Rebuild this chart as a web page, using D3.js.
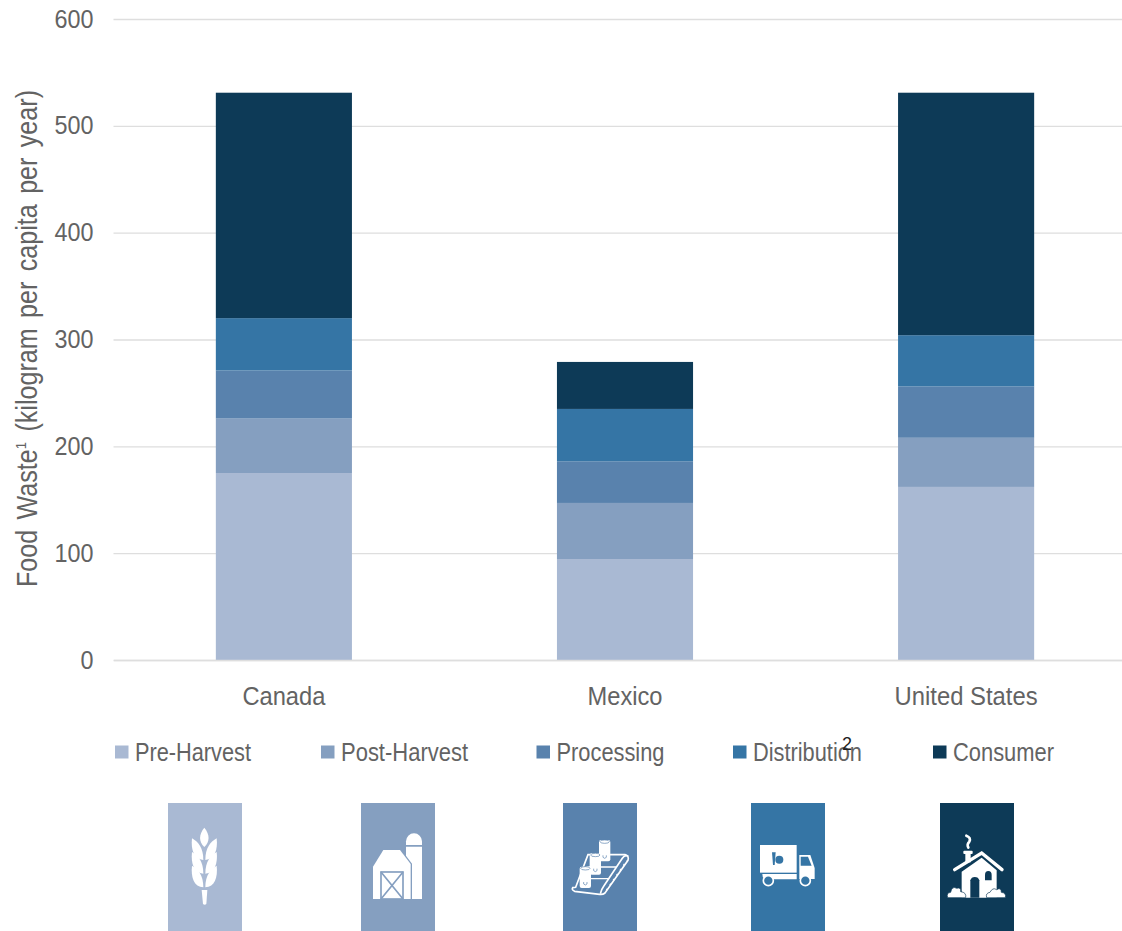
<!DOCTYPE html>
<html>
<head>
<meta charset="utf-8">
<script src="https://cdn.jsdelivr.net/npm/d3@7"></script>
<style>
html, body { margin: 0; padding: 0; background: #fff; overflow: hidden; }
svg { display: block; }
text { font-family: "Liberation Sans", Arial, sans-serif; fill: #636363; }
</style>
</head>
<body>
<svg></svg>
<script>
// values
var categories = ["Canada", "Mexico", "United States"];
var seriesNames = ["Pre-Harvest", "Post-Harvest", "Processing", "Distribution", "Consumer"];
var preHarvest = [175, 94.5, 162];
var postHarvest = [51, 52.5, 46];
var processing = [45, 39, 48];
var distribution = [49, 49, 48];
var consumer = [211, 44, 227];
var yTicks = [0, 100, 200, 300, 400, 500, 600];
var colors = ["#A9B9D3", "#859FC0", "#5982AD", "#3575A5", "#0D3A57"];

var svgWidth = 1122, svgHeight = 931;
var plotLeft = 113.5, plotRight = 1136.5, plotTop = 19, plotBottom = 660;

var svg = d3.select("svg")
    .attr("width", svgWidth)
    .attr("height", svgHeight);

var rows = categories.map(function(c, i) {
    return {
        category: c,
        "Pre-Harvest": preHarvest[i],
        "Post-Harvest": postHarvest[i],
        "Processing": processing[i],
        "Distribution": distribution[i],
        "Consumer": consumer[i]
    };
});

var xScale = d3.scaleBand()
    .domain(categories)
    .range([plotLeft, plotRight])
    .paddingInner(0.601)
    .paddingOuter(0.3);

var yScale = d3.scaleLinear()
    .domain([0, 600])
    .range([plotBottom, plotTop]);

var colorScale = d3.scaleOrdinal().domain(seriesNames).range(colors);

// gridlines + y tick labels
var yAxis = d3.axisLeft(yScale)
    .tickValues(yTicks)
    .tickSize(-(plotRight - plotLeft))
    .tickPadding(20);

var yG = svg.append("g")
    .attr("transform", "translate(" + plotLeft + ",0)")
    .call(yAxis);
yG.select(".domain").remove();
yG.selectAll("line").attr("stroke", "#DEDEDE").attr("stroke-width", 1.3);
yG.selectAll("text")
    .style("font-size", "25px")
    .attr("dy", "0.32em")
    .attr("textLength", function(d) { return d === 0 ? 13 : 39; })
    .attr("lengthAdjust", "spacingAndGlyphs");

var stack = d3.stack().keys(seriesNames);

svg.append("g").selectAll("g")
    .data(stack(rows))
    .enter()
    .append("g")
    .attr("fill", function(d) { return colorScale(d.key); })
    .selectAll("rect")
    .data(function(d) { return d; })
    .enter()
    .append("rect")
    .attr("x", function(d) { return xScale(d.data.category); })
    .attr("width", xScale.bandwidth())
    .attr("y", function(d) { return yScale(d[1]); })
    .attr("height", function(d) { return yScale(d[0]) - yScale(d[1]); });

// category labels
var xAxis = d3.axisBottom(xScale).tickSize(0);
var xG = svg.append("g")
    .attr("transform", "translate(0," + plotBottom + ")")
    .call(xAxis);
xG.select(".domain").attr("stroke", "#DEDEDE").attr("stroke-width", 1.3);
xG.selectAll("text")
    .style("font-size", "26px")
    .attr("y", 45)
    .attr("dy", 0)
    .attr("textLength", function(d) { return {"Canada": 83, "Mexico": 75, "United States": 143}[d]; })
    .attr("lengthAdjust", "spacingAndGlyphs");

// y axis title
var title = svg.append("text")
    .attr("transform", "translate(37,338.5) rotate(-90)")
    .attr("text-anchor", "middle")
    .style("font-size", "29px")
    .style("word-spacing", "4px")
    .attr("textLength", 497)
    .attr("lengthAdjust", "spacingAndGlyphs");
title.append("tspan").text("Food Waste");
title.append("tspan").attr("dy", -11).style("font-size", "15px").text("1");
title.append("tspan").attr("dy", 11).text(" (kilogram per capita per year)");

// legend
var legendSwatchX = [115, 321, 536.5, 733, 933];
var legend = svg.append("g").selectAll("g")
    .data(seriesNames)
    .enter()
    .append("g")
    .attr("transform", function(d, i) { return "translate(" + legendSwatchX[i] + ",745.5)"; });
legend.append("rect")
    .attr("width", 13.5)
    .attr("height", 13)
    .attr("fill", function(d) { return colorScale(d); });
legend.append("text")
    .attr("x", 20)
    .attr("y", 15)
    .style("font-size", "25px")
    .attr("textLength", function(d) { return {"Pre-Harvest": 116, "Post-Harvest": 127, "Processing": 108, "Distribution": 109, "Consumer": 101}[d]; })
    .attr("lengthAdjust", "spacingAndGlyphs")
    .text(function(d) { return d; });

// stray footnote mark sitting on the legend
svg.append("text")
    .attr("x", 842)
    .attr("y", 750)
    .style("font-size", "18px")
    .style("fill", "#222")
    .text("2");

// icon tiles, shapes in 3x zoom pixels relative to the tile corner
var tileX = [168, 361, 563, 751, 940];
var tiles = svg.append("g").selectAll("g")
    .data(seriesNames)
    .enter()
    .append("g")
    .attr("transform", function(d, i) { return "translate(" + tileX[i] + ",803)"; });
tiles.append("rect")
    .attr("width", 74)
    .attr("height", 128)
    .attr("fill", function(d) { return colorScale(d); });
var icons = tiles.append("g").attr("transform", "scale(0.3333)");

function shape(g, tag, attrs) {
    var el = g.append(tag);
    Object.keys(attrs).forEach(function(k) { el.attr(k, attrs[k]); });
    return el;
}

// wheat
var wheat = icons.filter(function(d, i) { return i === 0; });
shape(wheat, "path", { fill: "#fff", d: "M109 74C126 95 126 115 109 132C92 115 92 95 109 74Z" });
[0, 41, 82].forEach(function(dy) {
    shape(wheat, "path", { fill: "#fff", transform: "translate(0," + dy + ")", d: "M72 106C90 116 106 134 106 171C78 170 68 140 72 106Z" });
    shape(wheat, "path", { fill: "#fff", transform: "translate(0," + dy + ")", d: "M146 106C128 116 112 134 112 171C140 170 150 140 146 106Z" });
});
shape(wheat, "path", { fill: "#fff", d: "M101 261H118L115 303Q110 308 105 303Z" });

// barn
var barn = icons.filter(function(d, i) { return i === 1; });
shape(barn, "path", { fill: "#fff", d: "M135 126V115A24 24 0 0 1 183 115V126Z" });
shape(barn, "path", { fill: "#fff", d: "M135 131H183V288H153V182L135 158Z" });
shape(barn, "path", { fill: "#fff", d: "M36 191L67 141H117L149 183V288H36Z" });
shape(barn, "rect", { x: 60, y: 207, width: 66, height: 81, fill: "none", stroke: colors[1], "stroke-width": 5 });
shape(barn, "path", { fill: "none", stroke: colors[1], "stroke-width": 5, d: "M60 207L126 288M126 207L60 288" });

// conveyor with cans
var belt = icons.filter(function(d, i) { return i === 2; });
shape(belt, "path", { fill: "none", stroke: "#fff", "stroke-width": 5, d: "M38 253L75 155H186Q199 158 195 172L126 270Q120 275 110 274L35 265Q25 260 29 254Z" });
shape(belt, "path", { fill: "none", stroke: "#fff", "stroke-width": 5, d: "M112 272Q116 258 122 250L178 166Q186 154 196 160" });
shape(belt, "path", { fill: "none", stroke: "#fff", "stroke-width": 4, d: "M70 192H160M50 227H137" });
shape(belt, "path", { fill: "none", stroke: "#fff", "stroke-width": 4, "stroke-dasharray": "6 12", d: "M130 262L192 172" });
[[125, 111], [97, 151], [67, 191]].forEach(function(c) {
    shape(belt, "rect", { x: c[0] - 17, y: c[1], width: 34, height: 64, rx: 6, fill: "#fff" });
    shape(belt, "ellipse", { cx: c[0], cy: c[1] + 5, rx: 14, ry: 5, fill: "#fff", stroke: colors[2], "stroke-width": 2 });
    shape(belt, "path", { fill: "none", stroke: colors[2], "stroke-width": 2, d: "M" + (c[0] - 5) + " " + (c[1] + 46) + "v6q5 6 10 0v-6" });
});

// truck
var truck = icons.filter(function(d, i) { return i === 3; });
shape(truck, "rect", { x: 27, y: 126, width: 110, height: 83, fill: "#fff" });
shape(truck, "path", { fill: "#fff", d: "M34 213H137V229H40Q34 224 34 213Z" });
shape(truck, "path", { fill: "#fff", d: "M145 156H178L191 195V228H145Z" });
shape(truck, "path", { fill: colors[3], d: "M149 161H171L182 188H149Z" });
shape(truck, "circle", { cx: 52, cy: 233, r: 15, fill: colors[3], stroke: "#fff", "stroke-width": 5 });
shape(truck, "circle", { cx: 163, cy: 233, r: 15, fill: colors[3], stroke: "#fff", "stroke-width": 5 });
shape(truck, "circle", { cx: 85, cy: 170, r: 12, fill: colors[3] });
shape(truck, "path", { fill: colors[3], d: "M63 148H74L71 186H66Z" });

// house
var house = icons.filter(function(d, i) { return i === 4; });
shape(house, "path", { fill: "none", stroke: "#fff", "stroke-width": 10, "stroke-linecap": "round", d: "M44 200L125 150L186 200" });
shape(house, "path", { fill: "#fff", d: "M65 206L125 164L170 202V284H65Z" });
shape(house, "rect", { x: 70, y: 143, width: 28, height: 10, rx: 3, fill: "#fff" });
shape(house, "rect", { x: 76, y: 150, width: 16, height: 28, fill: "#fff" });
shape(house, "path", { fill: "none", stroke: "#fff", "stroke-width": 8, "stroke-linecap": "round", d: "M79 98Q94 104 88 116Q80 124 85 134" });
shape(house, "path", { fill: colors[4], d: "M91 284V232A14 14 0 0 1 118 232V284Z" });
shape(house, "path", { fill: colors[4], d: "M135 232V216A10 12 0 0 1 155 216V232Z" });
shape(house, "path", { fill: "#fff", stroke: colors[4], "stroke-width": 2, d: "M23 284Q18 270 32 268Q36 248 50 256Q64 252 62 266Q80 268 77 284Z" });
shape(house, "path", { fill: "#fff", stroke: colors[4], "stroke-width": 2, d: "M140 284Q136 270 150 268Q158 252 170 260Q184 252 184 268Q200 270 196 284Z" });
</script>
</body>
</html>
